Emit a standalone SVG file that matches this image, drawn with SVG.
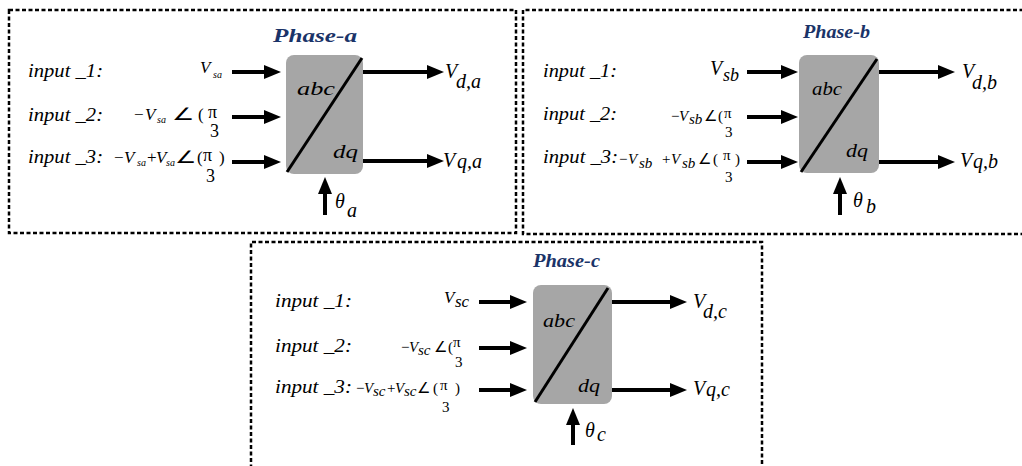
<svg xmlns="http://www.w3.org/2000/svg" width="1022" height="466" viewBox="0 0 1022 466">
<style>
.frame{fill:none;stroke:#000;stroke-width:2.5;stroke-dasharray:4 2.5}
.blk{fill:#A6A6A6;stroke:none}
.diag{stroke:#000;stroke-width:3}
.con{stroke:#000;stroke-width:4;fill:none}
.t text{font-family:'Liberation Serif','Times New Roman',serif;font-style:italic;fill:#000}
.t .lbl{font-size:19px}
.t .ttl{font-size:19px;font-weight:bold;fill:#1A3368}
.t .m{font-size:17px}
.t .s{font-size:10px}
.t .o{font-size:20px}
.t .b{font-size:15px}
.t .bs{font-size:15px}
.t .fr{font-size:15px;font-style:normal}
.t .fa{font-size:18px;font-style:normal}
.t .up{font-style:normal}
</style>
<defs>
<marker id="ah" markerWidth="17" markerHeight="14" refX="1" refY="7" orient="auto" markerUnits="userSpaceOnUse">
<path d="M0,0 L17,7 L0,14 Z" fill="#000"/>
</marker>
</defs>
<rect x="0" y="0" width="1022" height="466" fill="#fff"/>

<g id="frames">
<rect class="frame" x="9" y="10" width="507" height="223"/>
<path class="frame" d="M1030,10 H523 V234 H1030"/>
<path class="frame" d="M251,475 V242 H762 V475"/>
</g>

<g id="block-a" class="t">
<rect class="blk" x="286" y="55" width="77" height="119" rx="8"/>
<line class="diag" x1="287" y1="172" x2="362" y2="58"/>
<text class="ttl" x="273" y="42" textLength="84" lengthAdjust="spacingAndGlyphs">Phase-a</text>
<text class="lbl" x="297" y="95" textLength="38" lengthAdjust="spacingAndGlyphs">abc</text>
<text class="lbl" x="333" y="158" textLength="25" lengthAdjust="spacingAndGlyphs">dq</text>
</g>
<g id="block-b" class="t">
<rect class="blk" x="799" y="55" width="80" height="118" rx="8"/>
<line class="diag" x1="801" y1="172" x2="877" y2="59"/>
<text class="ttl" x="803" y="38" textLength="67" lengthAdjust="spacingAndGlyphs">Phase-b</text>
<text class="lbl" x="812" y="95" textLength="30" lengthAdjust="spacingAndGlyphs">abc</text>
<text class="lbl" x="846" y="157" textLength="22" lengthAdjust="spacingAndGlyphs">dq</text>
</g>
<g id="block-c" class="t">
<rect class="blk" x="533" y="285" width="79" height="119" rx="8"/>
<line class="diag" x1="535" y1="402" x2="608" y2="288"/>
<text class="ttl" x="533" y="267" textLength="67" lengthAdjust="spacingAndGlyphs">Phase-c</text>
<text class="lbl" x="543" y="327" textLength="32" lengthAdjust="spacingAndGlyphs">abc</text>
<text class="lbl" x="578" y="392" textLength="22" lengthAdjust="spacingAndGlyphs">dq</text>
</g>

<g id="connectors">
<line class="con" x1="232" y1="72" x2="265" y2="72" marker-end="url(#ah)"/>
<line class="con" x1="232" y1="117" x2="265" y2="117" marker-end="url(#ah)"/>
<line class="con" x1="232" y1="162" x2="265" y2="162" marker-end="url(#ah)"/>
<line class="con" x1="363" y1="72" x2="428" y2="72" marker-end="url(#ah)"/>
<line class="con" x1="363" y1="161" x2="428" y2="161" marker-end="url(#ah)"/>
<line class="con" x1="325" y1="215" x2="325" y2="193" marker-end="url(#ah)"/>
<line class="con" x1="747" y1="72" x2="782" y2="72" marker-end="url(#ah)"/>
<line class="con" x1="747" y1="117" x2="782" y2="117" marker-end="url(#ah)"/>
<line class="con" x1="747" y1="162" x2="782" y2="162" marker-end="url(#ah)"/>
<line class="con" x1="879" y1="72" x2="939" y2="72" marker-end="url(#ah)"/>
<line class="con" x1="879" y1="162" x2="939" y2="162" marker-end="url(#ah)"/>
<line class="con" x1="840" y1="215" x2="840" y2="193" marker-end="url(#ah)"/>
<line class="con" x1="479" y1="302" x2="511" y2="302" marker-end="url(#ah)"/>
<line class="con" x1="479" y1="348" x2="511" y2="348" marker-end="url(#ah)"/>
<line class="con" x1="479" y1="390" x2="511" y2="390" marker-end="url(#ah)"/>
<line class="con" x1="612" y1="302" x2="671" y2="302" marker-end="url(#ah)"/>
<line class="con" x1="612" y1="390" x2="671" y2="390" marker-end="url(#ah)"/>
<line class="con" x1="573" y1="445" x2="573" y2="424" marker-end="url(#ah)"/>
</g>

<g id="labels-a" class="t">
<text class="lbl" x="28" y="77" textLength="75" lengthAdjust="spacingAndGlyphs">input _1:</text>
<text class="lbl" x="28" y="121" textLength="75" lengthAdjust="spacingAndGlyphs">input _2:</text>
<text class="lbl" x="28" y="163" textLength="75" lengthAdjust="spacingAndGlyphs">input _3:</text>
<text class="m" x="200" y="73">V</text><text class="s" x="213" y="78">sa</text>
<text class="m up" x="134" y="120">−</text><text class="m" x="145" y="120">V</text><text class="s" x="157" y="123">sa</text>
<text class="m up" x="172" y="120" textLength="22" lengthAdjust="spacingAndGlyphs">∠</text><text class="m up" x="198" y="120">(</text>
<text class="fa" x="208" y="118">π</text><text class="fa" x="210" y="137">3</text>
<text class="m up" x="114" y="163">−</text><text class="m" x="124" y="163">V</text><text class="s" x="137" y="166">sa</text>
<text class="m up" x="147" y="163">+</text><text class="m" x="156" y="163">V</text><text class="s" x="166" y="166">sa</text>
<text class="m up" x="175" y="163" textLength="21" lengthAdjust="spacingAndGlyphs">∠</text><text class="m up" x="197" y="163">(</text>
<text class="fa" x="203" y="161">π</text><text class="fa" x="206" y="182">3</text><text class="m up" x="219" y="163">)</text>
<text class="o" x="445" y="78">V</text><text class="o" x="456" y="88">d,a</text>
<text class="o" x="443" y="167">V</text><text class="o" x="457" y="168">q,a</text>
<text class="o" x="335" y="208">θ</text><text class="o" x="347" y="217">a</text>
</g>

<g id="labels-b" class="t">
<text class="lbl" x="543" y="77" textLength="74" lengthAdjust="spacingAndGlyphs">input _1:</text>
<text class="lbl" x="543" y="120" textLength="74" lengthAdjust="spacingAndGlyphs">input _2:</text>
<text class="lbl" x="543" y="163" textLength="75" lengthAdjust="spacingAndGlyphs">input _3:</text>
<text class="o" x="710" y="75" font-size="19">V</text><text x="723" y="81" font-size="18">sb</text>
<text class="b up" x="671" y="121">−</text><text class="b" x="679" y="121">V</text><text class="bs" x="689" y="124">sb</text>
<text class="b up" x="704" y="121">∠</text><text class="b up" x="718" y="121">(</text>
<text class="fr" x="724" y="118">π</text><text class="fr" x="725" y="137">3</text>
<text class="b up" x="619" y="164">−</text><text class="b" x="628" y="164">V</text><text class="bs" x="639" y="168">sb</text>
<text class="b up" x="662" y="164">+</text><text class="b" x="671" y="164">V</text><text class="bs" x="682" y="168">sb</text>
<text class="b up" x="698" y="164">∠</text><text class="b up" x="713" y="164">(</text>
<text class="fr" x="723" y="160">π</text><text class="fr" x="725" y="182">3</text><text class="b up" x="735" y="164">)</text>
<text class="o" x="962" y="78">V</text><text class="o" x="972" y="89">d,b</text>
<text class="o" x="960" y="167">V</text><text class="o" x="973" y="168">q,b</text>
<text class="o" x="853" y="207">θ</text><text class="o" x="866" y="213">b</text>
</g>

<g id="labels-c" class="t">
<text class="lbl" x="275" y="307" textLength="77" lengthAdjust="spacingAndGlyphs">input _1:</text>
<text class="lbl" x="275" y="352" textLength="77" lengthAdjust="spacingAndGlyphs">input _2:</text>
<text class="lbl" x="275" y="393" textLength="77" lengthAdjust="spacingAndGlyphs">input _3:</text>
<text class="m" x="444" y="303">V</text><text x="455" y="307" font-size="17">sc</text>
<text class="b up" x="401" y="352">−</text><text class="b" x="409" y="352">V</text><text class="bs" x="418" y="355">sc</text>
<text class="b up" x="434" y="352">∠</text><text class="b up" x="448" y="352">(</text>
<text class="fr" x="453" y="347">π</text><text class="fr" x="455" y="367">3</text>
<text class="b up" x="356" y="393">−</text><text class="b" x="364" y="393">V</text><text class="bs" x="373" y="396">sc</text>
<text class="b up" x="387" y="393">+</text><text class="b" x="395" y="393">V</text><text class="bs" x="404" y="396">sc</text>
<text class="b up" x="417" y="393">∠</text><text class="b up" x="433" y="393">(</text>
<text class="fr" x="440" y="390">π</text><text class="fr" x="442" y="412">3</text><text class="b up" x="455" y="393">)</text>
<text class="o" x="693" y="308">V</text><text class="o" x="703" y="318">d,c</text>
<text class="o" x="693" y="395">V</text><text class="o" x="706" y="396">q,c</text>
<text class="o" x="585" y="437">θ</text><text class="o" x="597" y="441">c</text>
</g>
</svg>
